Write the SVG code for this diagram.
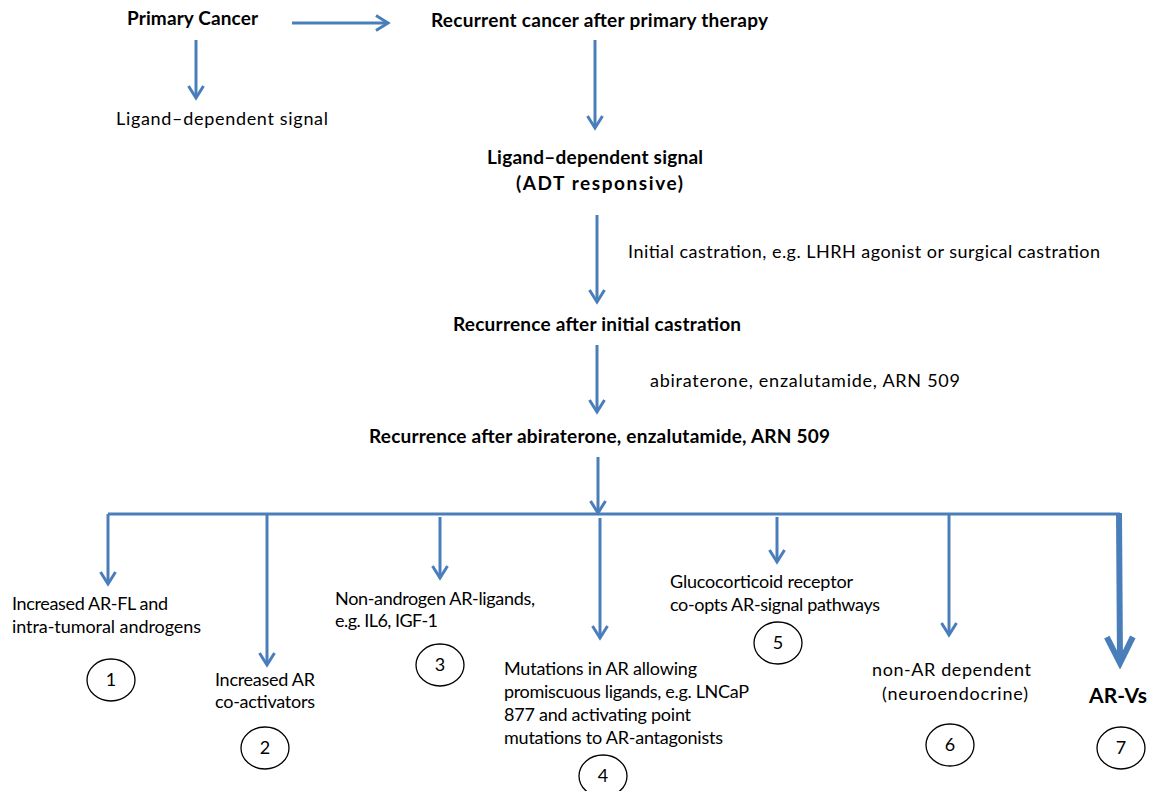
<svg xmlns="http://www.w3.org/2000/svg" width="1151" height="791" viewBox="0 0 1151 791">
<style>
text{font-family:Lato,"Open Sans","Liberation Sans",sans-serif;fill:#000}
.b{font-weight:bold;font-size:19px}
.n{font-size:18px}
.c{font-size:18px;text-anchor:middle}
.ln{stroke:#4A7EBB;stroke-width:3;fill:none}
.circ{fill:#fff;stroke:#000;stroke-width:1.3}
</style>
<defs>
<marker id="ah" markerUnits="userSpaceOnUse" viewBox="-16 -12 20 24" markerWidth="20" markerHeight="24" refX="0" refY="0" orient="auto">
<path d="M-12,-7.5 L0,0 L-12,7.5" fill="none" stroke="#4A7EBB" stroke-width="3"/>
</marker>
<marker id="ahb" markerUnits="userSpaceOnUse" viewBox="-34 -20 40 40" markerWidth="40" markerHeight="40" refX="0" refY="0" orient="auto">
<path d="M-26,-13 L0,0 L-26,13" fill="none" stroke="#4A7EBB" stroke-width="6"/>
</marker>
</defs>
<g id="connectors">
<line class="ln" x1="292" y1="23" x2="388" y2="23" marker-end="url(#ah)"/>
<line class="ln" x1="196" y1="40" x2="196" y2="98" marker-end="url(#ah)"/>
<line class="ln" x1="595" y1="40" x2="595" y2="128" marker-end="url(#ah)"/>
<line class="ln" x1="597" y1="215" x2="597" y2="302" marker-end="url(#ah)"/>
<line class="ln" x1="597" y1="345" x2="597" y2="412" marker-end="url(#ah)"/>
<line class="ln" x1="598" y1="457" x2="598" y2="513" marker-end="url(#ah)"/>
<line class="ln" x1="108" y1="514" x2="1120" y2="514"/>
<line class="ln" x1="108" y1="514" x2="108" y2="584" marker-end="url(#ah)"/>
<line class="ln" x1="267" y1="514" x2="267" y2="665" marker-end="url(#ah)"/>
<line class="ln" x1="440" y1="517" x2="440" y2="578" marker-end="url(#ah)"/>
<line class="ln" x1="600" y1="518" x2="600" y2="638" marker-end="url(#ah)"/>
<line class="ln" x1="777" y1="517" x2="777" y2="562" marker-end="url(#ah)"/>
<line class="ln" x1="949" y1="514" x2="949" y2="635" marker-end="url(#ah)"/>
<line class="ln" x1="1119" y1="513" x2="1120" y2="663" style="stroke-width:6" marker-end="url(#ahb)"/>
</g>
<g id="primary"><text class="b" x="127" y="25" textLength="131">Primary Cancer</text></g>
<g id="recurrent"><text class="b" x="431" y="27" textLength="337">Recurrent cancer after primary therapy</text></g>
<g id="ligand1"><text class="n" x="116" y="125" textLength="212">Ligand–dependent signal</text></g>
<g id="ligand2">
<text class="b" x="487" y="164" textLength="216">Ligand–dependent signal</text>
<text class="b" x="516" y="190" textLength="167">(ADT responsive)</text>
</g>
<g id="label-castration"><text class="n" x="628" y="258" textLength="472">Initial castration, e.g. LHRH agonist or surgical castration</text></g>
<g id="recurrence-castration"><text class="b" x="453" y="331" textLength="288">Recurrence after initial castration</text></g>
<g id="label-drugs"><text class="n" x="650" y="387" textLength="310">abiraterone, enzalutamide, ARN 509</text></g>
<g id="recurrence-drugs"><text class="b" x="369" y="443" textLength="461">Recurrence after abiraterone, enzalutamide, ARN 509</text></g>
<g id="n1">
<text class="n" x="12" y="610" textLength="156">Increased AR-FL and</text>
<text class="n" x="12" y="633" textLength="189">intra-tumoral androgens</text>
<ellipse class="circ" cx="111" cy="680" rx="24" ry="21"/><text class="c" x="111" y="686">1</text>
</g>
<g id="n2">
<text class="n" x="215" y="686" textLength="100">Increased AR</text>
<text class="n" x="215" y="708" textLength="100">co-activators</text>
<ellipse class="circ" cx="265" cy="748" rx="24" ry="21"/><text class="c" x="265" y="754">2</text>
</g>
<g id="n3">
<text class="n" x="335" y="605" textLength="200">Non-androgen AR-ligands,</text>
<text class="n" x="335" y="627" textLength="103">e.g. IL6, IGF-1</text>
<ellipse class="circ" cx="440" cy="665" rx="24" ry="21"/><text class="c" x="440" y="671">3</text>
</g>
<g id="n4">
<text class="n" x="504" y="675" textLength="193">Mutations in AR allowing</text>
<text class="n" x="504" y="698" textLength="245">promiscuous ligands, e.g. LNCaP</text>
<text class="n" x="504" y="721" textLength="187">877 and activating point</text>
<text class="n" x="504" y="744" textLength="219">mutations to AR-antagonists</text>
<ellipse class="circ" cx="603" cy="776" rx="24" ry="21"/><text class="c" x="603" y="782">4</text>
</g>
<g id="n5">
<text class="n" x="670" y="588" textLength="183">Glucocorticoid receptor</text>
<text class="n" x="670" y="611" textLength="210">co-opts AR-signal pathways</text>
<ellipse class="circ" cx="778" cy="643" rx="24" ry="21"/><text class="c" x="778" y="649">5</text>
</g>
<g id="n6">
<text class="n" x="872" y="676" textLength="159">non-AR dependent</text>
<text class="n" x="882" y="700" textLength="146">(neuroendocrine)</text>
<ellipse class="circ" cx="950" cy="745" rx="24" ry="21"/><text class="c" x="950" y="751">6</text>
</g>
<g id="n7">
<text x="1089" y="703" style="font-weight:bold;font-size:21px" textLength="58">AR-Vs</text>
<ellipse class="circ" cx="1121" cy="748" rx="24" ry="21"/><text class="c" x="1121" y="754">7</text>
</g>
</svg>
